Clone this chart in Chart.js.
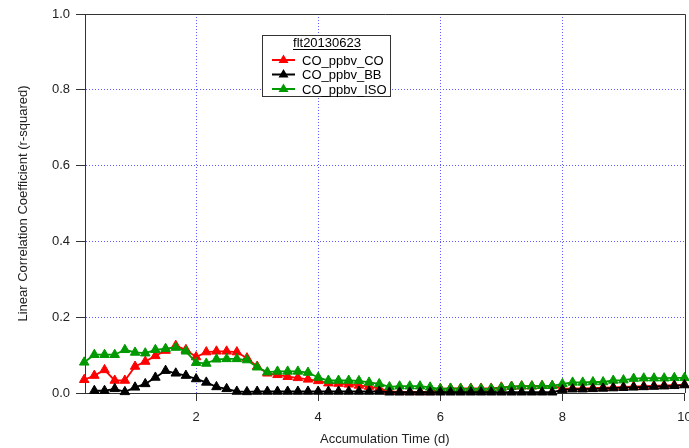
<!DOCTYPE html>
<html>
<head>
<meta charset="utf-8">
<script src="https://cdn.jsdelivr.net/npm/chart.js@4/dist/chart.umd.min.js"></script>
<style>
html, body { margin: 0; padding: 0; background: #fff; overflow: hidden; }
</style>
</head>
<body>
<!-- 右端の「10」を切るため少し広めのキャンバス -->
<canvas id="chart1" width="691" height="448"></canvas>
<script>
// 積算時間 (d) : 4時間ごと
var accumDays = [
  0.167, 0.333, 0.5, 0.667, 0.833, 1.0, 1.167, 1.333, 1.5, 1.667,
  1.833, 2.0, 2.167, 2.333, 2.5, 2.667, 2.833, 3.0, 3.167, 3.333,
  3.5, 3.667, 3.833, 4.0, 4.167, 4.333, 4.5, 4.667, 4.833, 5.0,
  5.167, 5.333, 5.5, 5.667, 5.833, 6.0, 6.167, 6.333, 6.5, 6.667,
  6.833, 7.0, 7.167, 7.333, 7.5, 7.667, 7.833, 8.0, 8.167, 8.333,
  8.5, 8.667, 8.833, 9.0, 9.167, 9.333, 9.5, 9.667, 9.833, 10.0
];

// r-squared
var rsqCO = [
  0.035, 0.046, 0.061, 0.033, 0.033, 0.070, 0.083, 0.098, 0.112, 0.125,
  0.114, 0.095, 0.108, 0.110, 0.110, 0.108, 0.092, 0.070, 0.052, 0.048,
  0.043, 0.040, 0.036, 0.032, 0.026, 0.025, 0.023, 0.020, 0.017, 0.012,
  0.004, 0.003, 0.003, 0.003, 0.003, 0.011, 0.012, 0.012, 0.012, 0.012,
  0.012, 0.015, 0.017, 0.018, 0.018, 0.019, 0.019, 0.011, 0.012, 0.012,
  0.013, 0.014, 0.015, 0.016, 0.017, 0.018, 0.019, 0.020, 0.021, 0.022
];
var rsqBB = [
  null, 0.006, 0.006, 0.011, 0.003, 0.015, 0.024, 0.041, 0.059, 0.052,
  0.046, 0.037, 0.028, 0.016, 0.011, 0.004, 0.003, 0.004, 0.004, 0.004,
  0.004, 0.004, 0.004, 0.004, 0.004, 0.004, 0.004, 0.004, 0.004, 0.004,
  0.002, 0.002, 0.002, 0.002, 0.002, 0.002, 0.002, 0.002, 0.002, 0.002,
  0.002, 0.002, 0.002, 0.002, 0.002, 0.002, 0.002, 0.008, 0.010, 0.010,
  0.011, 0.012, 0.013, 0.014, 0.015, 0.016, 0.017, 0.018, 0.019, 0.021
];
var rsqISO = [
  0.081, 0.101, 0.101, 0.101, 0.114, 0.107, 0.105, 0.114, 0.117, 0.120,
  0.110, 0.080, 0.078, 0.089, 0.090, 0.090, 0.087, 0.068, 0.055, 0.057,
  0.057, 0.057, 0.054, 0.041, 0.033, 0.033, 0.033, 0.032, 0.028, 0.024,
  0.016, 0.018, 0.018, 0.018, 0.015, 0.011, 0.012, 0.011, 0.011, 0.011,
  0.011, 0.014, 0.017, 0.018, 0.018, 0.019, 0.019, 0.024, 0.028, 0.028,
  0.029, 0.029, 0.033, 0.034, 0.038, 0.039, 0.039, 0.039, 0.040, 0.040
];

var seriesNames = ["CO_ppbv_CO", "CO_ppbv_BB", "CO_ppbv_ISO"];
var seriesColors = ["#ff0000", "#000000", "#009900"];
var legendTitle = "flt20130623";

var xTicks = [2, 4, 6, 8, 10];
var yTicks = [0, 0.2, 0.4, 0.6, 0.8, 1.0];
var xTitle = "Accumulation Time (d)";
var yTitle = "Linear Correlation Coefficient (r-squared)";

var fontFamily = "'Liberation Sans', Arial, sans-serif";
var axisColor = "#333333";
var gridColor = "#5c5cff";

function makePoints(ys){
    var pts = [];
    for (var i = 0; i < accumDays.length; i++){
        pts.push({x: accumDays[i], y: ys[i]});
    }
    return pts;
}

function makeDataset(idx, ys, order){
    return {
        label: seriesNames[idx],
        data: makePoints(ys),
        borderColor: seriesColors[idx],
        backgroundColor: seriesColors[idx],
        pointBackgroundColor: seriesColors[idx],
        pointBorderColor: seriesColors[idx],
        pointStyle: 'triangle',
        pointRadius: 5.5,
        pointBorderWidth: 1,
        borderWidth: 1.8,
        tension: 0,
        spanGaps: false,
        clip: false,
        order: order
    };
}

// 上と右の枠線
var framePlugin = {
    id: 'frame',
    beforeDatasetsDraw: function(chart){
        var a = chart.chartArea;
        var ctx = chart.ctx;
        ctx.save();
        ctx.strokeStyle = axisColor;
        ctx.lineWidth = 1;
        ctx.beginPath();
        ctx.moveTo(a.left, a.top + 0.5);
        ctx.lineTo(Math.round(a.right) + 0.5, a.top + 0.5);
        ctx.lineTo(Math.round(a.right) + 0.5, a.bottom);
        ctx.stroke();
        ctx.restore();
    }
};

// 凡例（グラフ内の枠）
var boxLegendPlugin = {
    id: 'boxLegend',
    afterDraw: function(chart){
        var ctx = chart.ctx;
        var bx = 262, by = 35, bw = 128, bh = 61;
        ctx.save();
        ctx.fillStyle = "#ffffff";
        ctx.fillRect(bx, by, bw, bh);
        ctx.strokeStyle = axisColor;
        ctx.lineWidth = 1;
        ctx.strokeRect(bx + 0.5, by + 0.5, bw, bh);

        ctx.font = "13px " + fontFamily;
        ctx.fillStyle = "#000";
        ctx.textBaseline = "alphabetic";
        ctx.textAlign = "center";
        var tx = bx + bw / 2 + 1;
        ctx.fillText(legendTitle, tx, by + 12);
        var tw = ctx.measureText(legendTitle).width;
        ctx.beginPath();
        ctx.moveTo(tx - tw / 2, by + 14.5);
        ctx.lineTo(tx + tw / 2, by + 14.5);
        ctx.strokeStyle = "#000";
        ctx.stroke();

        ctx.textAlign = "left";
        ctx.textBaseline = "middle";
        for (var i = 0; i < seriesNames.length; i++){
            var cy = by + 25 + i * 14.5;
            ctx.strokeStyle = seriesColors[i];
            ctx.lineWidth = 2;
            ctx.beginPath();
            ctx.moveTo(bx + 10, cy);
            ctx.lineTo(bx + 33, cy);
            ctx.stroke();
            ctx.fillStyle = seriesColors[i];
            ctx.beginPath();
            ctx.moveTo(bx + 21.5, cy - 5.5);
            ctx.lineTo(bx + 26.5, cy + 3);
            ctx.lineTo(bx + 16.5, cy + 3);
            ctx.closePath();
            ctx.fill();
            ctx.fillStyle = "#000";
            ctx.fillText(seriesNames[i], bx + 40, cy + 1);
        }
        ctx.restore();
    }
};

var ctx1 = document.getElementById("chart1");
var chart1 = new Chart(ctx1, {
    type: 'line',
    data: {
        datasets: [
            makeDataset(0, rsqCO, 3),
            makeDataset(1, rsqBB, 1),
            makeDataset(2, rsqISO, 2)
        ]
    },
    options: {
        responsive: false,
        animation: false,
        layout: { padding: { top: 14, right: 4, left: 0, bottom: 0 } },
        plugins: {
            legend: { display: false },
            tooltip: { enabled: false }
        },
        scales: {
            x: {
                type: 'linear',
                min: 0.18,
                max: 10,
                afterBuildTicks: function(s){
                    s.ticks = xTicks.map(function(v){ return {value: v}; });
                },
                afterFit: function(s){
                    s.height = 55;
                    s.paddingLeft = 0;
                    s.paddingRight = 0;
                },
                ticks: {
                    color: "#222",
                    font: { family: fontFamily, size: 13 },
                    padding: 9,
                    maxRotation: 0,
                    autoSkip: false,
                    callback: function(v){ return String(v); }
                },
                grid: {
                    color: function(c){
                        return (c.tick && c.tick.value < 10) ? gridColor : 'rgba(0,0,0,0)';
                    },
                    lineWidth: 1,
                    tickColor: axisColor,
                    tickLength: 8
                },
                border: { display: true, color: axisColor, width: 1, dash: [1, 2] },
                title: {
                    display: true,
                    text: xTitle,
                    color: "#222",
                    font: { family: fontFamily, size: 13 },
                    padding: { top: 0, bottom: 1 }
                }
            },
            y: {
                type: 'linear',
                min: 0,
                max: 1,
                afterBuildTicks: function(s){
                    s.ticks = yTicks.map(function(v){ return {value: v}; });
                },
                afterFit: function(s){
                    s.width = 85;
                    s.paddingTop = 0;
                    s.paddingBottom = 0;
                },
                ticks: {
                    color: "#222",
                    font: { family: fontFamily, size: 13 },
                    padding: 6,
                    autoSkip: false,
                    callback: function(v){ return Number(v).toFixed(1); }
                },
                grid: {
                    color: function(c){
                        var v = c.tick ? c.tick.value : 0;
                        return (v > 0 && v < 1) ? gridColor : 'rgba(0,0,0,0)';
                    },
                    lineWidth: 1,
                    tickColor: axisColor,
                    tickLength: 9
                },
                border: { display: true, color: axisColor, width: 1, dash: [1, 2] },
                title: {
                    display: true,
                    text: yTitle,
                    color: "#222",
                    font: { family: fontFamily, size: 13 },
                    padding: { top: 16, bottom: 0 }
                }
            }
        }
    },
    plugins: [framePlugin, boxLegendPlugin]
});
</script>
</body>
</html>
